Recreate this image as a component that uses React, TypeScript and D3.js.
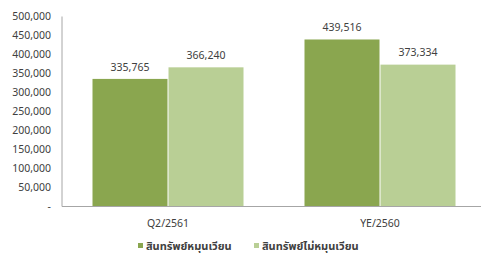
import React from "react";
import * as d3 from "d3";

const categories = ["Q2/2561", "YE/2560"];
const seriesNames = ["สินทรัพย์หมุนเวียน", "สินทรัพย์ไม่หมุนเวียน"];
const currentAssets = [335765, 439516];
const nonCurrentAssets = [366240, 373334];
const yTicks = [0, 50000, 100000, 150000, 200000, 250000, 300000, 350000, 400000, 450000, 500000];
const colors = ["#8AA64F", "#B9CF95"];

export default function App() {
  const W = 481, H = 255;
  const left = 62, right = 486, top = 16.5, bottom = 206.5;
  const x = d3.scaleBand<string>().domain(categories).range([left, right]).paddingInner(0.283).paddingOuter(0.1415);
  const inner = d3.scaleBand<string>().domain(["0", "1"]).range([0, x.bandwidth()]);
  const y = d3.scaleLinear().domain([0, 500000]).range([bottom, top]);
  const fmt = d3.format(",");
  const font = "'Noto Sans', 'Noto Sans Thai', 'DejaVu Sans', sans-serif";
  const series = [currentAssets, nonCurrentAssets];
  const legendX = [138, 254];
  return (
    <svg width={W} height={H} style={{ position: "absolute", left: 0, top: 0 }} fontFamily={font}>
      <rect width={W} height={H} fill="#fff" />
      {yTicks.map((t) => (
        <text key={t} x={51} y={y(t)} dy="0.35em" textAnchor="end" fontSize={10.5} fill="#404040">
          {t === 0 ? "-" : fmt(t)}
        </text>
      ))}
      {categories.map((c, ci) =>
        series.map((s, si) => {
          const bx = (x(c) as number) + (inner(String(si)) as number);
          const bw = inner.bandwidth();
          return (
            <g key={c + si}>
              <rect x={bx + 0.5} y={y(s[ci])} width={bw - 1} height={bottom - y(s[ci])} fill={colors[si]} />
              <text x={bx + bw / 2} y={y(s[ci]) - 12} dy="0.35em" textAnchor="middle" fontSize={10.5} fill="#404040">
                {fmt(s[ci])}
              </text>
            </g>
          );
        })
      )}
      <line x1={left} x2={left} y1={top} y2={bottom} stroke="#A6A6A6" strokeWidth={1} />
      <line x1={left} x2={W} y1={bottom} y2={bottom} stroke="#A6A6A6" strokeWidth={1} />
      {categories.map((c) => (
        <text key={c} x={(x(c) as number) + x.bandwidth() / 2} y={223} dy="0.35em" textAnchor="middle" fontSize={10.5} fill="#404040">
          {c}
        </text>
      ))}
      {seriesNames.map((n, i) => (
        <g key={n}>
          <rect x={legendX[i]} y={243} width={5} height={5} fill={colors[i]} />
          <text x={legendX[i] + 8} y={246} dy="0.35em" fontSize={11} fontWeight="bold" fill="#404040">
            {n}
          </text>
        </g>
      ))}
    </svg>
  );
}
